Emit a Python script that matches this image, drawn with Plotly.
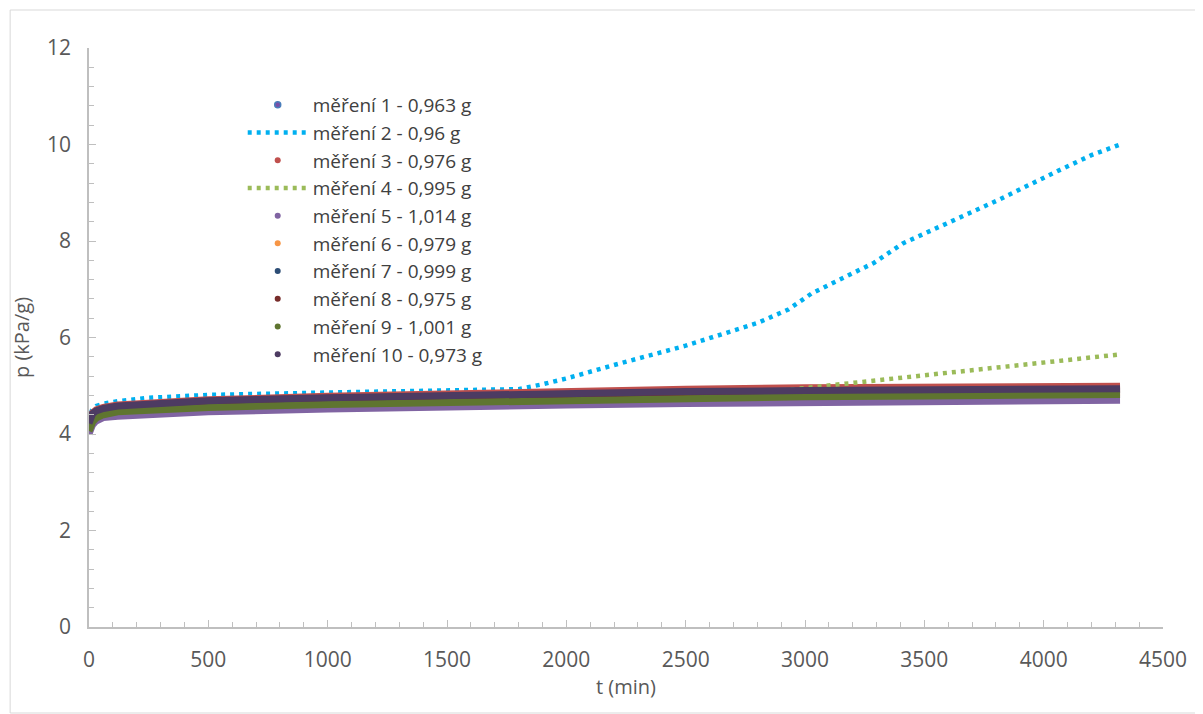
import plotly.graph_objects as go

# ---- data ----
t = [0, 5, 15, 30, 60, 120, 250, 500, 1000, 1500, 2000, 2500, 3000, 3500, 4000, 4320]

p1 = [4.08, 4.20, 4.29, 4.35, 4.40, 4.45, 4.50, 4.56, 4.62, 4.66, 4.72, 4.75, 4.77, 4.79, 4.80, 4.81]
p3 = [4.24, 4.35, 4.44, 4.50, 4.55, 4.60, 4.64, 4.71, 4.78, 4.83, 4.90, 4.93, 4.96, 4.97, 4.98, 4.99]
p5 = [4.00, 4.10, 4.19, 4.27, 4.34, 4.37, 4.40, 4.46, 4.52, 4.57, 4.60, 4.63, 4.65, 4.67, 4.69, 4.70]
p6 = [4.12, 4.24, 4.33, 4.39, 4.44, 4.49, 4.54, 4.60, 4.67, 4.71, 4.77, 4.80, 4.82, 4.84, 4.85, 4.86]
p7 = [4.18, 4.30, 4.39, 4.45, 4.50, 4.55, 4.60, 4.67, 4.73, 4.77, 4.83, 4.85, 4.87, 4.89, 4.90, 4.91]
p8 = [4.20, 4.31, 4.40, 4.46, 4.51, 4.56, 4.61, 4.68, 4.74, 4.78, 4.84, 4.86, 4.88, 4.90, 4.91, 4.92]
p9 = [4.06, 4.16, 4.25, 4.33, 4.40, 4.46, 4.50, 4.55, 4.61, 4.65, 4.72, 4.75, 4.77, 4.79, 4.81, 4.82]
p10 = [4.22, 4.33, 4.42, 4.48, 4.53, 4.58, 4.62, 4.69, 4.75, 4.79, 4.86, 4.88, 4.90, 4.92, 4.93, 4.94]

t2 = [0, 5, 15, 30, 60, 120, 250, 500, 1000, 1500, 1800, 1900, 2000, 2200, 2500, 2800,
      2930, 3030, 3170, 3290, 3410, 3600, 3810, 4050, 4200, 4320]
p2 = [4.25, 4.40, 4.52, 4.58, 4.63, 4.68, 4.75, 4.81, 4.86, 4.90, 4.93, 5.03, 5.15, 5.43, 5.83, 6.30,
      6.58, 6.92, 7.25, 7.55, 7.95, 8.37, 8.85, 9.43, 9.78, 10.0]

t4 = [0, 5, 15, 30, 60, 120, 250, 500, 1000, 1500, 2000, 2500, 2900, 3090, 3400, 3850, 4320]
p4 = [4.20, 4.32, 4.41, 4.47, 4.52, 4.57, 4.62, 4.68, 4.74, 4.79, 4.84, 4.87, 4.90, 5.00, 5.16, 5.39, 5.65]

names = ["měření 1 - 0,963 g", "měření 2 - 0,96 g", "měření 3 - 0,976 g", "měření 4 - 0,995 g",
         "měření 5 - 1,014 g", "měření 6 - 0,979 g", "měření 7 - 0,999 g", "měření 8 - 0,975 g",
         "měření 9 - 1,001 g", "měření 10 - 0,973 g"]
colors = ["#7A4FA6", "#00B0F0", "#C0504D", "#9BBB59", "#8064A2", "#F79646",
          "#2C4D75", "#772C2A", "#5F7530", "#4D3B62"]

series = [(t, p1), (t2, p2), (t, p3), (t4, p4), (t, p5), (t, p6), (t, p7), (t, p8), (t, p9), (t, p10)]
dotted = {1, 3}

fig = go.Figure()
for i, (xs, ys) in enumerate(series):
    if i in dotted:
        line = dict(color=colors[i], width=4.5, dash="4px,5px")
    else:
        line = dict(color=colors[i], width=7)
    fig.add_trace(go.Scatter(x=xs, y=ys, mode="lines", line=line, showlegend=False,
                             legendgroup=f"g{i}", hoverinfo="skip"))

# legend entries
for i in range(10):
    if i in dotted:
        fig.add_trace(go.Scatter(x=[None], y=[None], mode="lines", name=names[i],
                                 legendgroup=f"g{i}",
                                 line=dict(color=colors[i], width=4.5, dash="4px,5px")))
    else:
        mk = dict(color=colors[i], size=6)
        if i == 0:
            mk["line"] = dict(color="#4A7EBB", width=1.5)
        fig.add_trace(go.Scatter(x=[None], y=[None], mode="markers", name=names[i],
                                 legendgroup=f"g{i}", marker=mk))

# page body has an 8px margin; compensate so the plot lands where the reference has it
OFF = 8
W, H = 1203 - OFF, 714 - OFF
L, R, T = 87 - OFF, 40, 48 - OFF
B = H - T - (627 - 48)
pw, ph = W - L - R, H - T - B

FONT = "Open Sans, Lato, sans-serif"
fig.update_layout(
    width=W, height=H,
    margin=dict(l=L, r=R, t=T, b=B),
    paper_bgcolor="white", plot_bgcolor="white",
    font=dict(family=FONT, color="#595959", size=20),
    legend=dict(x=(241 - 87) / pw, y=(627 - 86) / ph, xanchor="left", yanchor="top",
                bgcolor="rgba(0,0,0,0)", font=dict(family=FONT, size=19, color="#404040"),
                itemwidth=60, tracegroupgap=0, traceorder="normal"),
    xaxis=dict(range=[0, 4500], dtick=500, showgrid=False, zeroline=False,
               showline=True, linecolor="#BFBFBF", linewidth=1.5,
               ticks="inside", ticklen=7, tickcolor="#BFBFBF",
               minor=dict(ticks="inside", ticklen=5, dtick=100, tickcolor="#BFBFBF"),
               tickfont=dict(family=FONT, size=21, color="#595959"),
               ticklabelstandoff=13,
               title=dict(text="t (min)", font=dict(family=FONT, size=20, color="#595959"), standoff=8)),
    yaxis=dict(range=[0, 12], dtick=2, showgrid=False, zeroline=False,
               showline=True, linecolor="#BFBFBF", linewidth=1.5,
               ticks="inside", ticklen=7, tickcolor="#BFBFBF",
               minor=dict(ticks="inside", ticklen=5, dtick=0.4, tickcolor="#BFBFBF"),
               tickfont=dict(family=FONT, size=21, color="#595959"),
               ticklabelstandoff=12,
               title=dict(text="p (kPa/g)", font=dict(family=FONT, size=20, color="#595959"), standoff=13)),
)

# outer chart border
fig.add_shape(type="rect", xref="paper", yref="paper",
              x0=(8 - 87) / pw, x1=(1196 - 87) / pw,
              y0=(627 - 713) / ph, y1=(627 - 10) / ph,
              line=dict(color="#D9D9D9", width=1), layer="below")

fig.write_html("out.html")
